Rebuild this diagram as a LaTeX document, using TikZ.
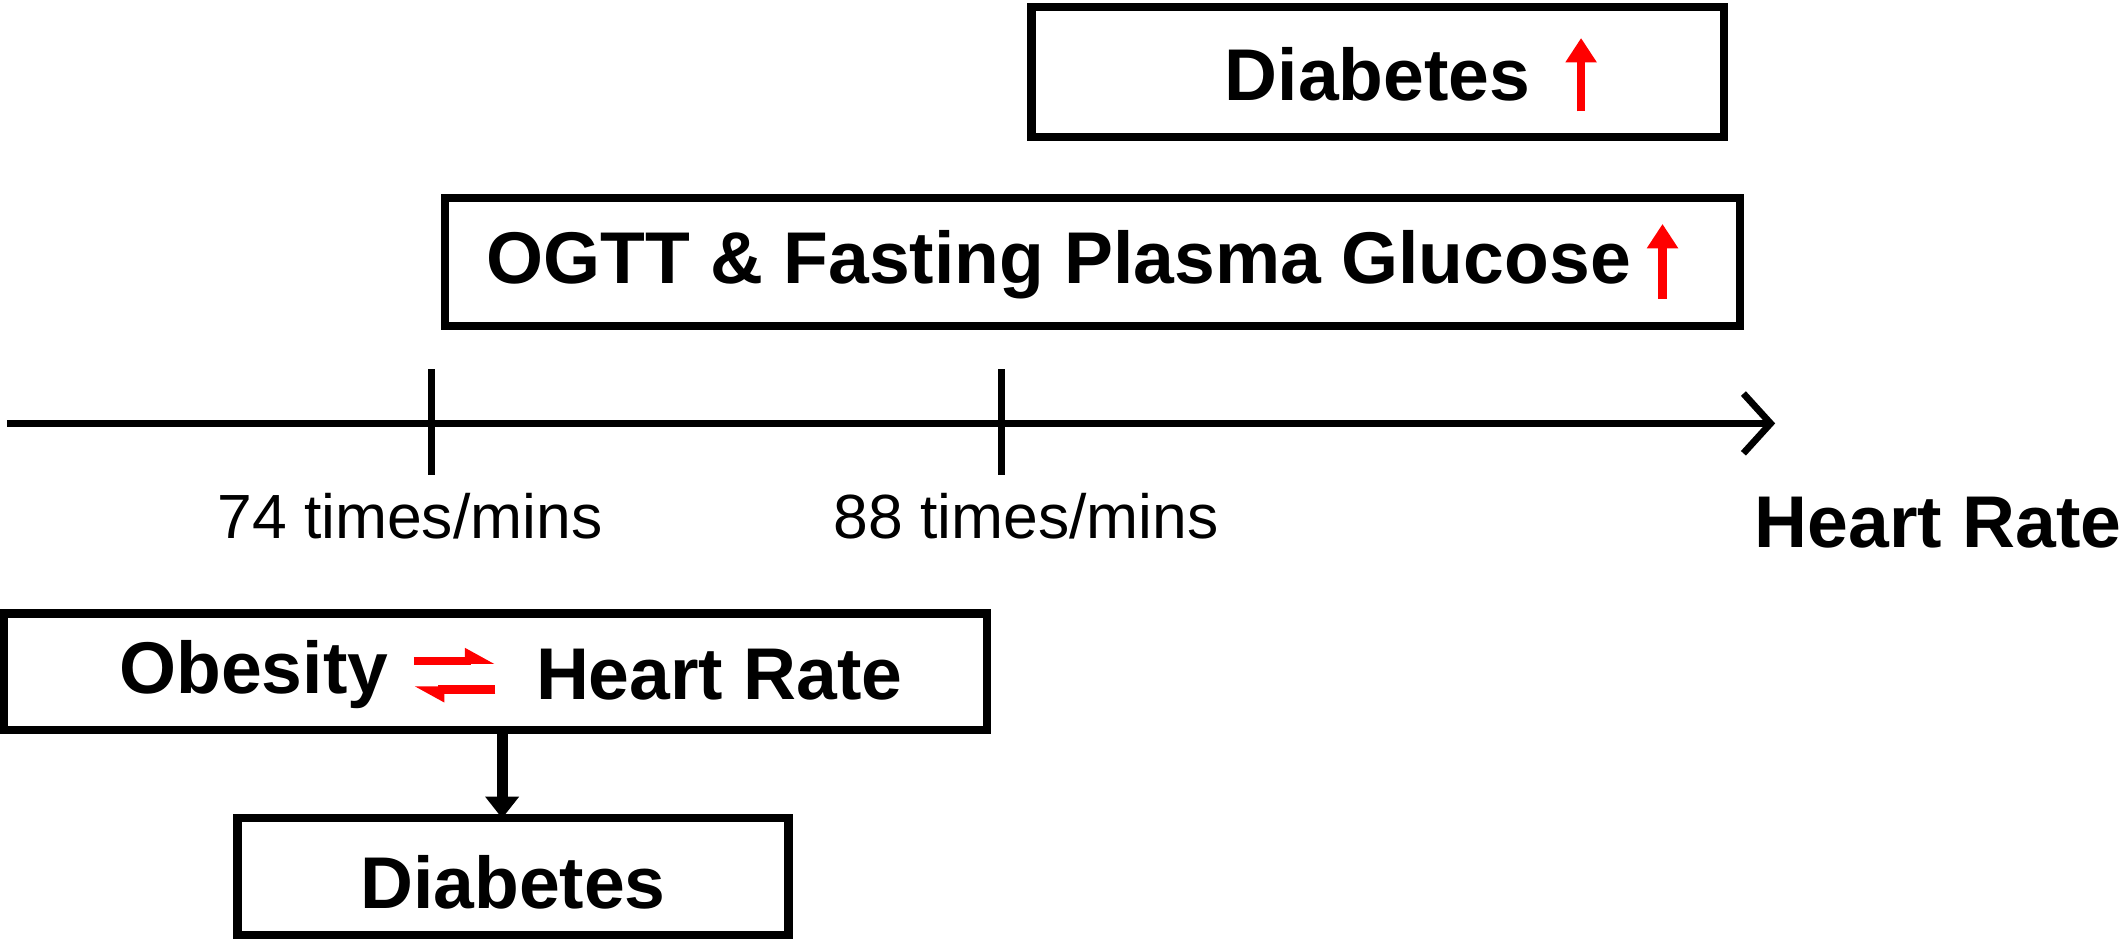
\documentclass[tikz,border=0pt]{standalone}
\usepackage{fontspec}
\setmainfont{Liberation Sans}
\usetikzlibrary{arrows.meta}
\begin{document}
\begin{tikzpicture}[x=0.5pt,y=-0.5pt,
 box/.style={draw,line width=3pt,inner sep=0pt},
 bt/.style={font=\fontsize{27}{30}\selectfont\bfseries,inner sep=0pt},
 rt/.style={font=\fontsize{23}{26}\selectfont,inner sep=0pt},
 red/.style={draw=red,line width=3pt,-{Triangle[length=9pt,width=11pt]}}]
\useasboundingbox (0,0) rectangle (1568,701);
\node[box,minimum width=255pt,minimum height=48pt] (b1) at (1015,53) {};
\node[bt] (t1) at (1015,55) {Diabetes};
\coordinate (r1a) at (1165,82); \coordinate (r1b) at (1165,28);
\draw[red] (r1a) -- (r1b);
\node[box,minimum width=477pt,minimum height=47pt] (b2) at (805,193) {};
\node[bt] (t2) at (780,195) {OGTT \& Fasting Plasma Glucose};
\coordinate (r2a) at (1225,220); \coordinate (r2b) at (1225,165);
\draw[red] (r2a) -- (r2b);
\coordinate (a0) at (5,312); \coordinate (a1) at (1308,312);
\draw[line width=2.5pt,-{Straight Barb[length=10pt,width=22pt,line width=2.5pt]}] (a0) -- (a1);
\coordinate (k1a) at (318,272); \coordinate (k1b) at (318,350);
\coordinate (k2a) at (738,272); \coordinate (k2b) at (738,350);
\draw[line width=2.5pt] (k1a) -- (k1b) (k2a) -- (k2b);
\node[rt] (l1) at (302,380) {74 times/mins};
\node[rt] (l2) at (756,380) {88 times/mins};
\node[bt] (l3) at (1428,385) {Heart Rate};
\node[box,minimum width=362pt,minimum height=43pt] (b3) at (365,495) {};
\node[bt] (o) at (187,497) {Obesity};
\node[bt] (h) at (530,497) {Heart Rate};
\coordinate (p1) at (305,487); \coordinate (p2) at (365,487);
\coordinate (q1) at (365,508); \coordinate (q2) at (305,508);
\draw[draw=red,line width=3pt,-{Triangle[length=9pt,width=9pt,left]}] (p1) -- (p2);
\draw[draw=red,line width=3pt,-{Triangle[length=9pt,width=9pt,left]}] (q1) -- (q2);
\node[box,minimum width=203pt,minimum height=43pt] (b4) at (378,646) {};
\node[bt] (d) at (378,650) {Diabetes};
\draw[line width=4pt,-{Triangle[length=8pt,width=12pt]}] (b3.south-|b4) ++(-8,0) -- ++(0,62);
\end{tikzpicture}
\end{document}
